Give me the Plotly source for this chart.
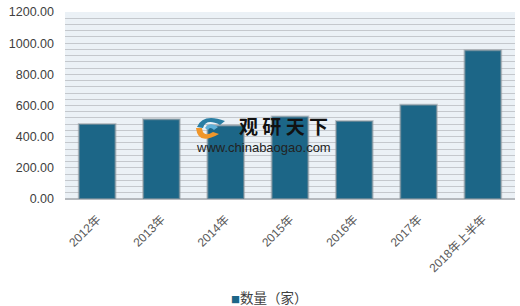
import plotly.graph_objects as go

categories = ["2012年", "2013年", "2014年", "2015年", "2016年", "2017年", "2018年上半年"]
values = [482, 512, 472, 530, 500, 605, 955]
y_ticks = [0, 200, 400, 600, 800, 1000, 1200]
series_name = "数量（家）"

bar_color = "#1c6687"
grid_color = "#c4c8cd"
plot_bg = "#ebf1f6"
text_color = "#595959"

fig = go.Figure()
fig.add_trace(go.Bar(
    x=categories, y=values, name=series_name,
    marker=dict(color=bar_color, line=dict(color="rgba(150,155,160,0.55)", width=2)),
    width=0.57,
    showlegend=False,
))

fig.update_layout(
    width=520, height=306, autosize=False,
    margin=dict(l=65, r=5, t=12, b=107),
    paper_bgcolor="white",
    plot_bgcolor=plot_bg,
    font=dict(family="Liberation Sans, Arial, Noto Sans CJK SC", size=12, color=text_color),
    showlegend=False,
)

fig.update_yaxes(
    range=[0, 1200], tickvals=y_ticks, tickformat=".2f",
    showgrid=True, gridcolor=grid_color, gridwidth=1,
    minor=dict(dtick=40, showgrid=True, gridcolor=grid_color, gridwidth=1),
    zeroline=True, zerolinecolor="#b5b9be", zerolinewidth=2,
    tickfont=dict(size=12.5, color="#404040"), ticks="", ticklabelstandoff=10,
    showline=False,
)
fig.update_xaxes(
    tickangle=-45, tickfont=dict(size=12, color=text_color,
                                 family="Liberation Sans, Noto Sans CJK SC"),
    ticks="", ticklabelstandoff=10, showgrid=False, showline=False,
)

def px_to_paper(px, py):
    return (px - 65) / 450, (199 - py) / 187

def path_from_px(cmds):
    out = []
    for c in cmds:
        if isinstance(c, str):
            out.append(c)
        else:
            x, y = px_to_paper(*c)
            out.append(f"{x:.5f},{y:.5f}")
    return " ".join(out)

# watermark logo (approximate)
blue_path = path_from_px(["M", (197, 127), "Q", (203, 113), (225, 121),
                          "L", (220, 125), "Q", (206, 118), (203, 128), "Z"])
orange_path = path_from_px(["M", (196, 128), "Q", (198, 146), (219, 134),
                            "L", (213, 132), "Q", (203, 138), (202, 128), "Z"])
mid_path = path_from_px(["M", (205, 128), "Q", (210, 121), (218, 127),
                         "L", (214, 130), "Q", (210, 126), (208, 130), "Z"])
fig.add_shape(type="path", xref="paper", yref="paper", path=blue_path,
              fillcolor="#2a7ea3", line=dict(width=0))
fig.add_shape(type="path", xref="paper", yref="paper", path=orange_path,
              fillcolor="#f0962a", line=dict(width=0))
fig.add_shape(type="path", xref="paper", yref="paper", path=mid_path,
              fillcolor="#5fb0d8", line=dict(width=0))

# watermark text
wx, wy = px_to_paper(283, 125)
fig.add_annotation(x=wx, y=wy, xref="paper", yref="paper", text="<b>观 研 天 下</b>",
                   xanchor="center", yanchor="middle", showarrow=False,
                   font=dict(size=19, color="#111111", family="Noto Sans CJK SC"))
ux, uy = px_to_paper(263, 147)
fig.add_annotation(x=ux, y=uy, xref="paper", yref="paper", text="www.chinabaogao.com",
                   xanchor="center", yanchor="middle", showarrow=False,
                   font=dict(size=13, color="#222222", family="Liberation Sans"))

# legend (drawn as text with a coloured square)
lx, ly = px_to_paper(229, 297)
fig.add_annotation(x=lx, y=ly, xref="paper", yref="paper",
                   text=f"<span style='color:{bar_color};font-size:9px'>■</span>{series_name}",
                   xanchor="left", yanchor="middle", showarrow=False,
                   font=dict(size=13.5, color="#404040", family="Noto Sans CJK SC"))

fig.write_html("out.html")
